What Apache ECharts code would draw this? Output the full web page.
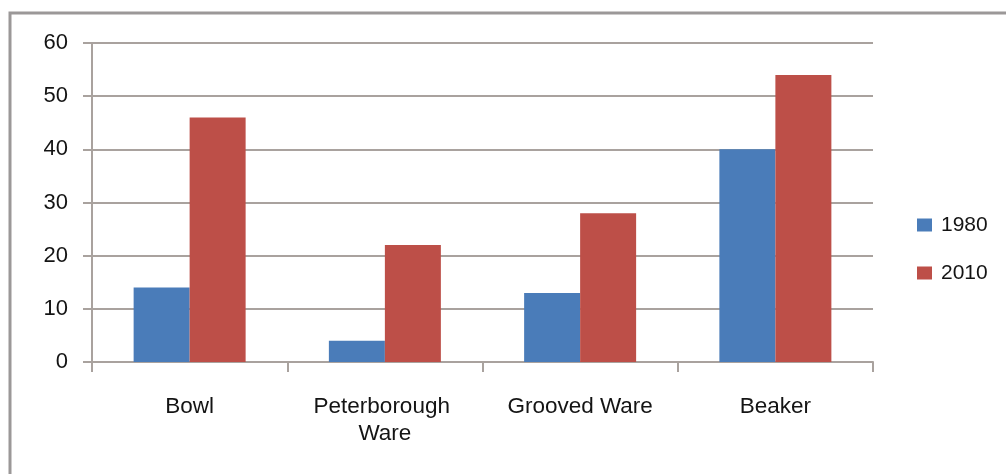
<!DOCTYPE html>
<html>
<head>
<meta charset="utf-8">
<script src="https://cdn.jsdelivr.net/npm/echarts@6/dist/echarts.min.js"></script>
<style>
  html, body { margin: 0; padding: 0; background: #fff; }
  #chart { width: 1006px; height: 474px; }
</style>
</head>
<body>
<div id="chart"></div>
<script>
// Pottery types and counts for the two survey years
const categories = ['Bowl', 'Peterborough Ware', 'Grooved Ware', 'Beaker'];
const values1980 = [14, 4, 13, 40];
const values2010 = [46, 22, 28, 54];
const seriesNames = ['1980', '2010'];

const gridColor = '#a9a29e';
const textColor = '#141414';
const fontFamily = '"Liberation Sans", Arial, Helvetica, sans-serif';

const chart = echarts.init(document.getElementById('chart'), null, { renderer: 'canvas' });

chart.setOption({
  animation: false,
  backgroundColor: '#ffffff',
  graphic: [{
    type: 'rect',
    shape: { x: 10, y: 13, width: 1020, height: 480 },
    style: { fill: 'none', stroke: '#9b9898', lineWidth: 3 },
    silent: true,
    z: -1
  }],
  grid: { left: 92, right: 133, top: 43, bottom: 112, containLabel: false },
  legend: {
    orient: 'vertical',
    left: 917,
    top: 214,
    padding: 0,
    itemWidth: 15,
    itemHeight: 13,
    itemGap: 26,
    icon: 'rect',
    data: seriesNames,
    textStyle: {
      fontFamily: fontFamily,
      fontSize: 21,
      lineHeight: 22,
      color: textColor,
      padding: [0, 0, 0, 4]
    }
  },
  xAxis: {
    type: 'category',
    data: categories,
    boundaryGap: true,
    axisLine: { show: true, lineStyle: { color: gridColor, width: 2 } },
    axisTick: { show: true, length: 10, inside: false, lineStyle: { color: gridColor, width: 2 } },
    axisLabel: {
      margin: 31,
      fontFamily: fontFamily,
      fontSize: 22.5,
      lineHeight: 27,
      color: textColor,
      width: 160,
      overflow: 'break',
      interval: 0
    },
    splitLine: { show: false }
  },
  yAxis: {
    type: 'value',
    min: 0,
    max: 60,
    interval: 10,
    axisLine: { show: true, lineStyle: { color: gridColor, width: 2 } },
    axisTick: { show: true, length: 9, lineStyle: { color: gridColor, width: 2 } },
    axisLabel: {
      margin: 24,
      fontFamily: fontFamily,
      fontSize: 22,
      color: textColor
    },
    splitLine: { show: true, lineStyle: { color: gridColor, width: 2 } }
  },
  series: [
    {
      name: seriesNames[0],
      type: 'bar',
      data: values1980,
      barWidth: 56,
      barGap: '0%',
      itemStyle: { color: '#4a7cb9' }
    },
    {
      name: seriesNames[1],
      type: 'bar',
      data: values2010,
      barWidth: 56,
      barGap: '0%',
      itemStyle: { color: '#bd4f48' }
    }
  ]
});
</script>
</body>
</html>
